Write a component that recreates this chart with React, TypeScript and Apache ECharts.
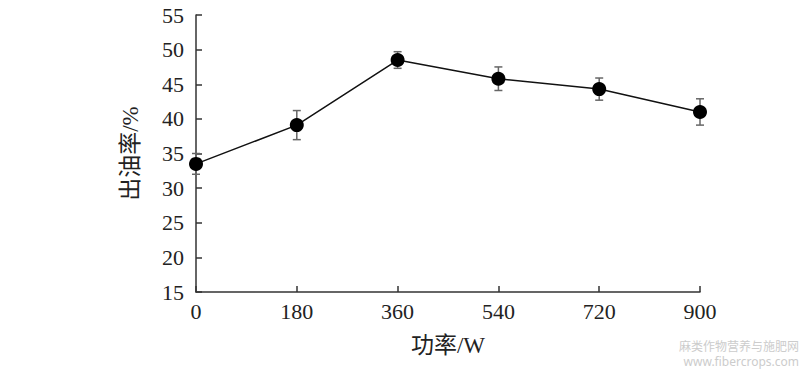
import React, { useEffect, useRef } from "react";
import * as echarts from "echarts";

const powers = [0, 180, 360, 540, 720, 900];
const oilYield = [33.5, 39.1, 48.5, 45.8, 44.3, 41.0];
const errors = [1.5, 2.1, 1.2, 1.7, 1.6, 1.9];
const xTicks = [0, 180, 360, 540, 720, 900];
const yMin = 15;
const yMax = 55;
const yStep = 5;

const FONT = '"Liberation Serif", "Noto Sans CJK SC", serif';

export default function App() {
  const ref = useRef<HTMLDivElement>(null);
  useEffect(() => {
    if (!ref.current) return;
    const chart = echarts.init(ref.current, null, { renderer: "svg" });
    const lineData = powers.map((p, i) => [p, oilYield[i]]);
    const errData = powers.map((p, i) => [p, oilYield[i] - errors[i], oilYield[i] + errors[i]]);
    chart.setOption({
      animation: false,
      backgroundColor: "#ffffff",
      grid: { left: 196, top: 15, right: 107, bottom: 80 },
      xAxis: {
        type: "value",
        min: xTicks[0],
        max: xTicks[xTicks.length - 1],
        interval: 180,
        name: "功率/W",
        nameLocation: "middle",
        nameGap: 42,
        nameTextStyle: { fontFamily: FONT, fontSize: 23, color: "#222" },
        axisLine: { show: true, lineStyle: { color: "#333", width: 1.5 } },
        axisTick: { show: true, inside: true, length: 6, lineStyle: { color: "#333", width: 1.5 } },
        axisLabel: { fontFamily: FONT, fontSize: 22, color: "#222", margin: 8 },
        splitLine: { show: false },
      },
      yAxis: {
        type: "value",
        min: yMin,
        max: yMax,
        interval: yStep,
        name: "出油率/%",
        nameLocation: "middle",
        nameGap: 54,
        nameRotate: 90,
        nameTextStyle: { fontFamily: FONT, fontSize: 23, color: "#222" },
        axisLine: { show: true, lineStyle: { color: "#333", width: 1.5 } },
        axisTick: { show: true, inside: true, length: 6, lineStyle: { color: "#333", width: 1.5 } },
        axisLabel: { fontFamily: FONT, fontSize: 22, color: "#222", margin: 12 },
        splitLine: { show: false },
      },
      series: [
        {
          type: "custom",
          z: 1,
          data: errData,
          renderItem: (params: any, api: any) => {
            const x = api.value(0);
            const lo = api.coord([x, api.value(1)]);
            const hi = api.coord([x, api.value(2)]);
            const hw = 4;
            const style = { stroke: "#666", lineWidth: 1.5 };
            return {
              type: "group",
              children: [
                { type: "line", shape: { x1: lo[0], y1: lo[1], x2: hi[0], y2: hi[1] }, style },
                { type: "line", shape: { x1: lo[0] - hw, y1: lo[1], x2: lo[0] + hw, y2: lo[1] }, style },
                { type: "line", shape: { x1: hi[0] - hw, y1: hi[1], x2: hi[0] + hw, y2: hi[1] }, style },
              ],
            };
          },
        },
        {
          type: "line",
          z: 3,
          data: lineData,
          symbol: "circle",
          symbolSize: 14,
          itemStyle: { color: "#000" },
          lineStyle: { color: "#111", width: 1.5 },
        },
      ],
      graphic: [
        {
          type: "text",
          right: 8,
          top: 339,
          style: { text: "麻类作物营养与施肥网", fontSize: 12, lineHeight: 13, fill: "#cccccc", fontFamily: '"Noto Sans CJK SC", sans-serif' },
        },
        {
          type: "text",
          right: 8,
          top: 355,
          style: { text: "www.fibercrops.com", fontSize: 12, lineHeight: 13, fill: "#cccccc", fontFamily: '"Noto Sans", sans-serif' },
        },
      ],
    });
    return () => chart.dispose();
  }, []);
  return <div ref={ref} style={{ width: 807, height: 372, position: "absolute", left: 0, top: 0 }} />;
}
